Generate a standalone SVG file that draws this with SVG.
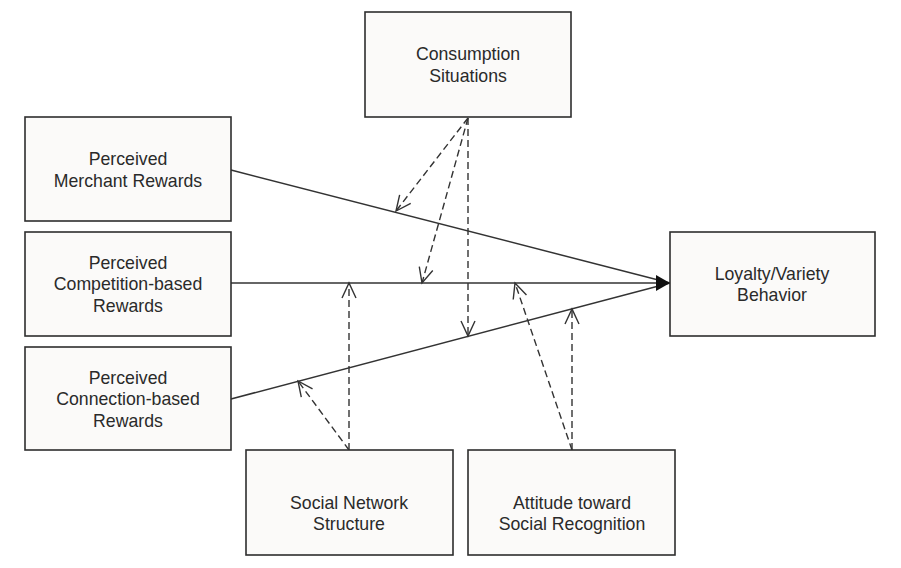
<svg xmlns="http://www.w3.org/2000/svg" width="901" height="568" viewBox="0 0 901 568">
<style>
.box{fill:#fbfaf9;stroke:#2e2e2e;stroke-width:1.6}
.t{font-family:"Liberation Sans",Arial,sans-serif;font-size:17.7px;fill:#2a2a2a;text-anchor:middle}
.solid{stroke:#333;stroke-width:1.5;fill:none}
.dash{stroke:#333;stroke-width:1.4;fill:none;stroke-dasharray:7,4;marker-end:url(#open)}
</style>
<defs>
<marker id="open" markerUnits="userSpaceOnUse" markerWidth="20" markerHeight="20" viewBox="-17 -10 20 20" refX="0" refY="0" orient="auto">
<path d="M-15,-7 L0,0 L-15,7" fill="none" stroke="#333" stroke-width="1.4"/>
</marker>
</defs>
<rect width="901" height="568" fill="#ffffff"/>
<g id="connectors">
<line class="solid" x1="231" y1="170" x2="670" y2="283"/>
<line class="solid" x1="231" y1="283" x2="670" y2="283"/>
<line class="solid" x1="231" y1="399" x2="670" y2="283"/>
<polygon points="670,283 656,275 656,291" fill="#111"/>
<line class="dash" x1="468" y1="118" x2="396" y2="211"/>
<line class="dash" x1="468" y1="118" x2="422" y2="283"/>
<line class="dash" x1="468" y1="118" x2="468" y2="336"/>
<line class="dash" x1="349" y1="450" x2="349" y2="283"/>
<line class="dash" x1="349" y1="450" x2="298" y2="381"/>
<line class="dash" x1="572" y1="450" x2="515" y2="283"/>
<line class="dash" x1="572" y1="450" x2="572" y2="309"/>
</g>
<g id="consumption">
<rect class="box" x="365" y="12" width="206" height="105"/>
<text class="t" x="468" y="60">Consumption</text>
<text class="t" x="468" y="82">Situations</text>
</g>
<g id="merchant">
<rect class="box" x="25" y="117" width="206" height="104"/>
<text class="t" x="128" y="165">Perceived</text>
<text class="t" x="128" y="187">Merchant Rewards</text>
</g>
<g id="competition">
<rect class="box" x="25" y="232" width="206" height="104"/>
<text class="t" x="128" y="269">Perceived</text>
<text class="t" x="128" y="290">Competition-based</text>
<text class="t" x="128" y="312">Rewards</text>
</g>
<g id="connection">
<rect class="box" x="25" y="347" width="206" height="103"/>
<text class="t" x="128" y="384">Perceived</text>
<text class="t" x="128" y="405">Connection-based</text>
<text class="t" x="128" y="427">Rewards</text>
</g>
<g id="loyalty">
<rect class="box" x="670" y="232" width="205" height="104"/>
<text class="t" x="772" y="280">Loyalty/Variety</text>
<text class="t" x="772" y="301">Behavior</text>
</g>
<g id="social-network">
<rect class="box" x="246" y="450" width="207" height="105"/>
<text class="t" x="349" y="509">Social Network</text>
<text class="t" x="349" y="530">Structure</text>
</g>
<g id="attitude">
<rect class="box" x="468" y="450" width="207" height="105"/>
<text class="t" x="572" y="509">Attitude toward</text>
<text class="t" x="572" y="530">Social Recognition</text>
</g>
</svg>
